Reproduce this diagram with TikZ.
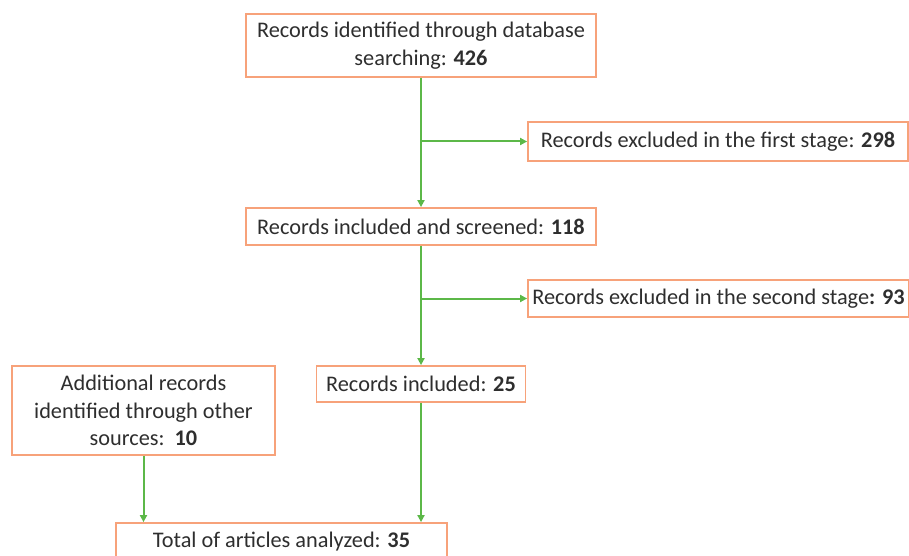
\documentclass[tikz,border=0pt]{standalone}
\usepackage{fontspec}
\setmainfont{Carlito}
\usetikzlibrary{arrows.meta}
\definecolor{boxor}{HTML}{F7A27A}
\definecolor{arrgr}{HTML}{5CB848}
\definecolor{txt}{HTML}{2E2E2E}
\begin{document}
\begin{tikzpicture}[x=1pt,y=-1pt,
  box/.style={draw=boxor,line width=1.8pt,fill=white,inner sep=0pt,align=center,text=txt,
    font=\fontsize{22.3}{27.5}\selectfont},
  conn/.style={draw=arrgr,line width=2pt,-{Triangle[length=7pt,width=7pt]}}]
\useasboundingbox (0,0) rectangle (909,556);
\node[box,minimum width=350pt,minimum height=63pt] (b1) at (421,45.5) {Records identified through database\\searching: \textbf{426}};
\node[box,minimum width=380pt,minimum height=39pt] (b2) at (718,141.5) {Records excluded in the first stage: \textbf{298}};
\node[box,minimum width=350pt,minimum height=37pt] (b3) at (421,226.5) {Records included and screened: \textbf{118}};
\node[box,minimum width=381pt,minimum height=37pt] (b4) at (718.5,298.5) {Records excluded in the second stage\textbf{: 93}};
\node[box,minimum width=209pt,minimum height=36pt] (b5) at (421,384) {Records included: \textbf{25}};
\node[box,minimum width=263pt,minimum height=89pt] (b6) at (143.5,410.5) {Additional records\\identified through other\\sources:\ \ \textbf{10}};
\node[box,minimum width=331pt,minimum height=38pt] (b7) at (281.5,542) {Total of articles analyzed: \textbf{35}};
\draw[conn] (b1.south) -- (b3.north);
\draw[conn] (b1.south |- b2.west) -- (b2.west);
\draw[conn] (b3.south) -- (b5.north);
\draw[conn] (b3.south |- b4.west) -- (b4.west);
\draw[conn] (b6.south) -- (b6.south |- b7.north);
\draw[conn] (b5.south) -- (b5.south |- b7.north);
\end{tikzpicture}
\end{document}
